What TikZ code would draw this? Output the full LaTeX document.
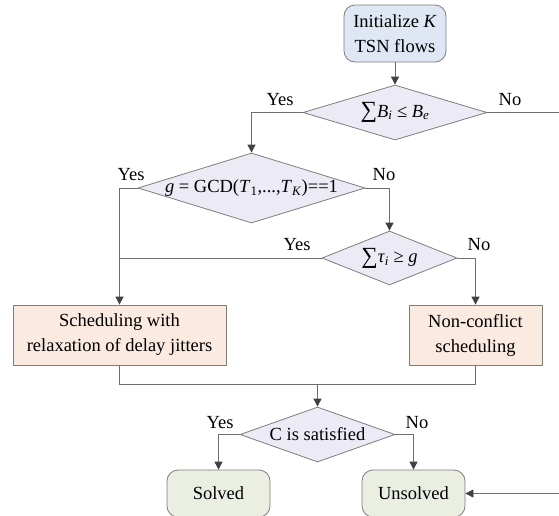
\documentclass[tikz,border=0pt]{standalone}
\usepackage{fontspec}
\setmainfont{Liberation Serif}
\usetikzlibrary{shapes.geometric,arrows.meta}
\definecolor{initfill}{RGB}{222,231,243}
\definecolor{diafill}{RGB}{236,234,244}
\definecolor{schedfill}{RGB}{250,234,223}
\definecolor{resfill}{RGB}{234,239,226}
\definecolor{bordercol}{RGB}{125,125,125}
\definecolor{linecol}{RGB}{110,110,110}
\definecolor{tipcol}{RGB}{65,65,65}
\newcommand{\sbi}[1]{\textsubscript{\textit{#1}}}
\newcommand{\bigsum}{\raisebox{-0.5pt}{\scalebox{1.25}{∑}}}
\tikzset{
  every node/.style={font=\fontsize{18.5}{25}\selectfont, text=black},
  initbox/.style={draw=bordercol, fill=initfill, rounded corners=11pt, minimum width=102pt, minimum height=57pt, inner sep=0pt, align=center, line width=0.8pt},
  dia/.style={draw=bordercol, fill=diafill, diamond, inner sep=0pt, line width=0.8pt},
  schedbox/.style={draw=bordercol, fill=schedfill, minimum height=60pt, inner sep=0pt, align=center, line width=0.8pt},
  resbox/.style={draw=bordercol, fill=resfill, rounded corners=11pt, minimum width=103pt, minimum height=47pt, inner sep=0pt, line width=0.8pt},
  conn/.style={draw=linecol, line width=0.8pt},
  arr/.style={conn, -{Triangle[length=8pt,width=8pt,color=tipcol]}},
  lbl/.style={inner sep=0pt}
}
\begin{document}
\begin{tikzpicture}[x=1pt,y=-1pt]
\useasboundingbox (0,0) rectangle (559,515);
\clip (0,0) rectangle (559,515);
% nodes
\node[initbox] (init) at (395,33.5) {Initialize \textit{K}\\TSN flows};
\node[dia, minimum width=184pt, minimum height=55pt] (d1) at (395,112.5) {\makebox[0pt]{\bigsum\textit{B}\sbi{i} ≤ \textit{B}\sbi{e}}};
\node[dia, minimum width=227pt, minimum height=70pt] (d2) at (251.5,188) {\makebox[0pt]{\textit{g} = GCD(\textit{T}\textsubscript{1},...,\textit{T}\sbi{K})==1}};
\node[dia, minimum width=135pt, minimum height=54pt] (d3) at (389.5,258) {\makebox[0pt]{\bigsum\textit{τ}\sbi{i} ≥ \textit{g}}};
\node[schedbox, minimum width=213pt] (s1) at (119.5,335) {Scheduling with\\relaxation of delay jitters};
\node[schedbox, minimum width=133pt] (s2) at (475.5,335) {Non-conflict\\scheduling};
\node[dia, minimum width=155pt, minimum height=55pt] (d4) at (317.5,434.5) {\makebox[0pt]{C is satisfied}};
\node[resbox] (solved) at (218.5,493.5) {Solved};
\node[resbox] (unsolved) at (413.5,493.5) {Unsolved};
% helper coordinates
\coordinate (r1) at (575,112.5);
\coordinate (r2) at (575,493.5);
\coordinate (j1) at (119.5,258);
\coordinate (j2) at (317.5,384);
% connectors
\draw[arr] (init.south) -- (d1.north);
\draw[arr] (d1.west) -| (d2.north);
\draw[arr] (d1.east) -- (r1) -- (r2) -- (unsolved.east);
\draw[arr] (d2.west) -| (s1.north);
\draw[arr] (d2.east) -| (d3.north);
\draw[conn] (d3.west) -- (j1);
\draw[arr] (d3.east) -| (s2.north);
\draw[conn] (s1.south) |- (j2) -| (s2.south);
\draw[arr] (j2) -- (d4.north);
\draw[arr] (d4.west) -| (solved.north);
\draw[arr] (d4.east) -| (unsolved.north);
% labels
\node[lbl] (y1) at (280,100) {Yes};
\node[lbl] (n1) at (510,100) {No};
\node[lbl] (y2) at (131,175) {Yes};
\node[lbl] (n2) at (384,175) {No};
\node[lbl] (y3) at (297,245) {Yes};
\node[lbl] (n3) at (479,245) {No};
\node[lbl] (y4) at (220,423) {Yes};
\node[lbl] (n4) at (417,423) {No};
\end{tikzpicture}
\end{document}
